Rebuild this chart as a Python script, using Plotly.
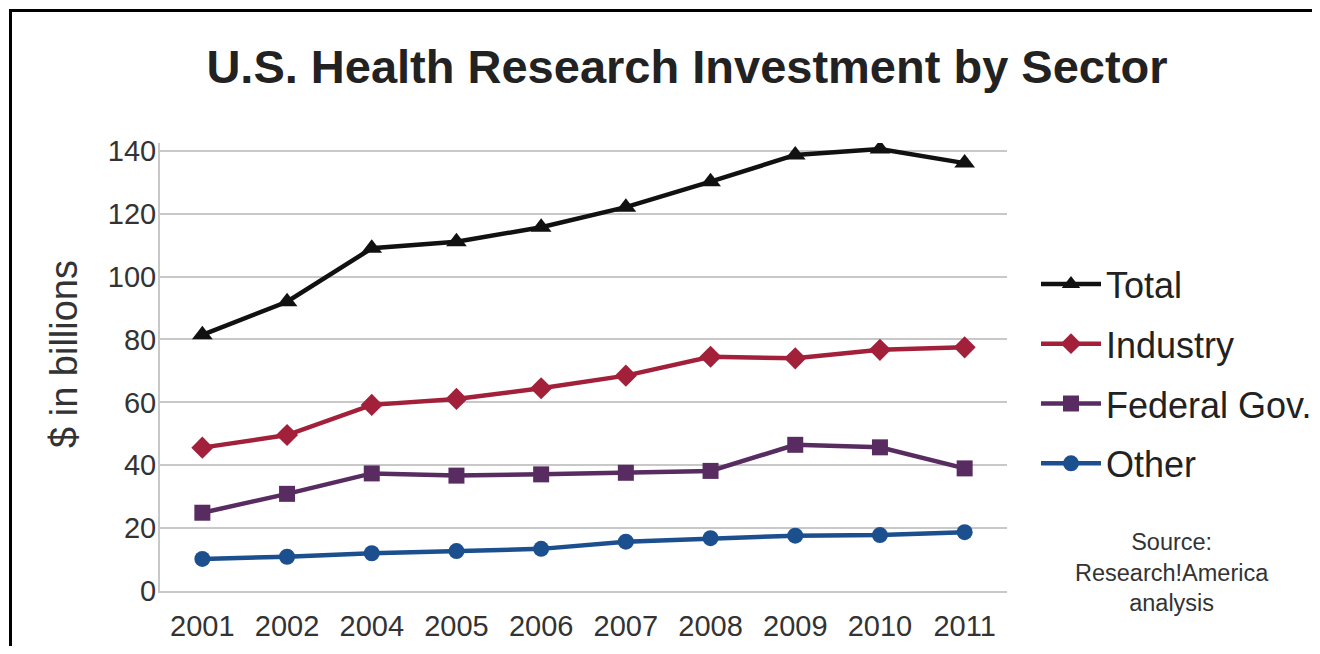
import plotly.graph_objects as go

years = ["2001", "2002", "2004", "2005", "2006", "2007", "2008", "2009", "2010", "2011"]
total = [81.5, 92.0, 109.0, 111.1, 115.7, 122.1, 130.2, 138.7, 140.6, 136.1]
industry = [45.6, 49.6, 59.2, 61.1, 64.5, 68.5, 74.5, 74.0, 76.7, 77.5]
federal = [24.9, 30.9, 37.4, 36.7, 37.1, 37.6, 38.2, 46.5, 45.7, 39.0]
other = [10.2, 10.9, 12.0, 12.7, 13.4, 15.7, 16.8, 17.6, 17.8, 18.7]
y_ticks = [0, 20, 40, 60, 80, 100, 120, 140]

# page has an 8px body margin; work in reference-page pixels and shift,
# keeping the page small enough that no scrollbar appears
OFF = 8
W, H = 1320 - OFF, 654 - 2 * OFF
L, R, T = 160 - OFF, 313, 143 - OFF
B = H - (591 - OFF)
pw, ph = W - L - R, H - T - B

def px(x):
    return (x - OFF - L) / pw

def py(y):
    return (H - B - (y - OFF)) / ph

FONT = "Liberation Sans, Arial, sans-serif"
TXT = "#333333"

series = [
    ("Total", total, "#111111", "triangle-up", 18),
    ("Industry", industry, "#a3203a", "diamond", 17),
    ("Federal Gov.", federal, "#592c61", "square", 16),
    ("Other", other, "#1b4f8d", "circle", 16),
]

fig = go.Figure()
for name, vals, col, sym, ms in series:
    fig.add_trace(go.Scatter(
        x=years, y=vals, name=name, mode="lines+markers",
        line=dict(color=col, width=4.5),
        marker=dict(symbol=sym, size=ms, color=col),
        legendgroup=name,
    ))

fig.update_layout(
    width=W, height=H,
    margin=dict(l=L, r=R, t=T, b=B, autoexpand=False),
    paper_bgcolor="white", plot_bgcolor="white",
    font=dict(family=FONT, color=TXT),
    title=dict(text="<b>U.S. Health Research Investment by Sector</b>",
               font=dict(size=47, color="#222222", family=FONT),
               x=(687 - OFF) / W, xref="container", xanchor="center",
               y=(H - (67 - OFF)) / H, yref="container", yanchor="middle"),
    xaxis=dict(type="category", range=[-0.5, 9.5], showgrid=False,
               showline=True, linecolor="#c8c8c8", linewidth=2,
               ticks="", tickfont=dict(size=29, color=TXT),
               ticklabelstandoff=8, fixedrange=True),
    yaxis=dict(range=[0, 142.5], tickvals=y_ticks, showgrid=True,
               gridcolor="#c8c8c8", gridwidth=2, zeroline=False,
               showline=True, linecolor="#c8c8c8", linewidth=2,
               ticks="", tickfont=dict(size=29, color=TXT),
               ticklabelstandoff=-4, fixedrange=True),
    legend=dict(x=px(1036), xanchor="left", y=py(254), yanchor="top",
                font=dict(size=36, color="#222222", family=FONT),
                tracegroupgap=10, bgcolor="rgba(0,0,0,0)", itemwidth=60,
                borderwidth=0),
    showlegend=True,
)

fig.add_annotation(text="$ in billions", x=px(64), y=py(354), xref="paper", yref="paper",
                   textangle=-90, showarrow=False, xanchor="center", yanchor="middle",
                   font=dict(size=38, color=TXT, family=FONT))

fig.add_annotation(text="Source:<br>Research!America<br>analysis",
                   x=px(1172), y=py(572), xref="paper", yref="paper",
                   showarrow=False, xanchor="center", yanchor="middle", align="center",
                   font=dict(size=23.5, color=TXT, family=FONT))

fig.add_shape(type="rect", xref="paper", yref="paper",
              x0=px(10.5), x1=px(1340), y0=py(10.5), y1=py(660),
              line=dict(color="black", width=3), fillcolor="rgba(0,0,0,0)", layer="above")

fig.write_html("out.html", config={"displayModeBar": False})
